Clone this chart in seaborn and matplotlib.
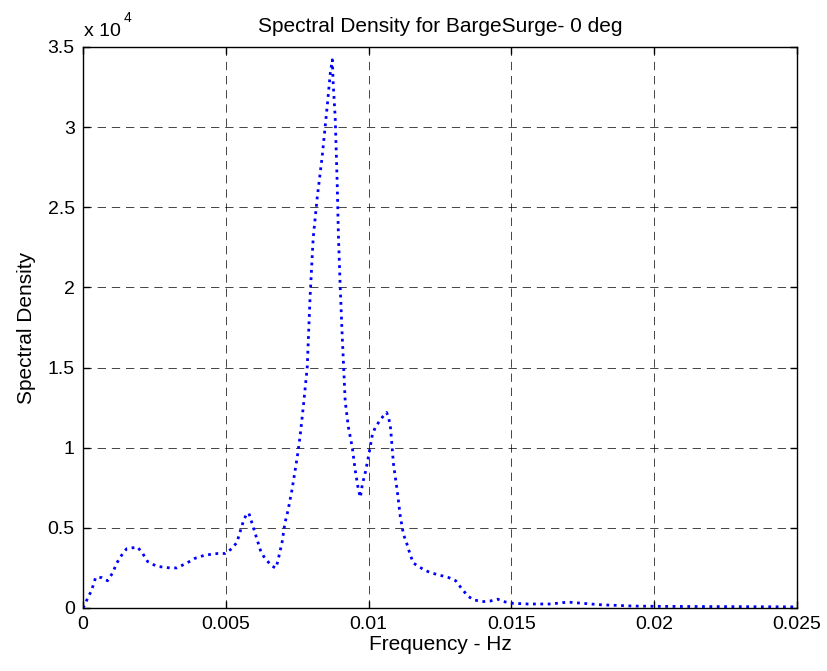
import matplotlib
matplotlib.use("Agg")
import matplotlib.pyplot as plt
from matplotlib.ticker import FuncFormatter, FixedLocator
from matplotlib.transforms import offset_copy
import numpy as np
import pandas as pd
import seaborn as sns

# Surge spectral density of the barge, 0 deg heading
freq_hz = [
    0.00000, 0.00016, 0.00030, 0.00044, 0.00065, 0.00086, 0.00104, 0.00118,
    0.00139, 0.00153, 0.00191, 0.00209, 0.00226, 0.00258, 0.00304, 0.00328,
    0.00363, 0.00392, 0.00427, 0.00472, 0.00497, 0.00521, 0.00539, 0.00549,
    0.00563, 0.00574, 0.00581, 0.00595, 0.00609, 0.00623, 0.00637, 0.00662,
    0.00676, 0.00683, 0.00697, 0.00707, 0.00718, 0.00732, 0.00750, 0.00760,
    0.00771, 0.00785, 0.00795, 0.00806, 0.00820, 0.00837, 0.00855, 0.00866,
    0.00873, 0.00876, 0.00883, 0.00890, 0.00894, 0.00900, 0.00907, 0.00918,
    0.00929, 0.00943, 0.00953, 0.00964, 0.00971, 0.00978, 0.00989, 0.00999,
    0.01013, 0.01024, 0.01048, 0.01063, 0.01070, 0.01077, 0.01087, 0.01101,
    0.01111, 0.01122, 0.01136, 0.01146, 0.01157, 0.01192, 0.01217, 0.01259,
    0.01280, 0.01305, 0.01322, 0.01347, 0.01368, 0.01403, 0.01427, 0.01452,
    0.01473, 0.01497, 0.01557, 0.01638, 0.01698, 0.01743, 0.01814, 0.01929,
    0.02024, 0.02165, 0.02340, 0.02500,
]
spectral_density = [
    0, 600, 1100, 1900, 1900, 1700, 2200, 2800,
    3400, 3700, 3800, 3400, 2900, 2600, 2500, 2500,
    2800, 3100, 3300, 3400, 3400, 3700, 4100, 4700,
    5500, 5900, 5900, 5100, 4300, 3500, 3100, 2600,
    2500, 3000, 4100, 5300, 6100, 7400, 9400, 10700,
    12500, 15000, 19400, 23100, 25600, 28100, 31300, 33400,
    34200, 32700, 30600, 26500, 23400, 20300, 17200, 12900,
    11300, 10000, 8600, 7400, 6900, 7700, 8500, 9400,
    10800, 11300, 11900, 12200, 11900, 11200, 9000, 7200,
    5700, 4600, 3900, 3300, 2800, 2400, 2200, 2000,
    1900, 1700, 1300, 750, 500, 400, 440, 550,
    400, 300, 250, 250, 370, 300, 200, 120,
    100, 90, 80, 70,
]

x_ticks = [0, 0.005, 0.01, 0.015, 0.02, 0.025]
y_ticks = [0, 5000, 10000, 15000, 20000, 25000, 30000, 35000]

title_text = "Spectral Density for BargeSurge- 0 deg"
x_label = "Frequency - Hz"
y_label = "Spectral Density"

sns.set_theme(style="white")
plt.rcParams["font.family"] = ["Liberation Sans", "DejaVu Sans"]

df = pd.DataFrame({"freq": freq_hz, "psd": spectral_density})

fig = plt.figure(figsize=(8.27, 6.71), dpi=100)
ax = fig.add_axes([0.1004, 0.0939, 0.8633, 0.8361])

sns.lineplot(data=df, x="freq", y="psd", ax=ax, color=(0, 0, 1),
             linestyle=":", linewidth=2.0, sort=False, estimator=None)

ax.set_xlim(0, 0.025)
ax.set_ylim(0, 35000)
ax.xaxis.set_major_locator(FixedLocator(x_ticks))
ax.yaxis.set_major_locator(FixedLocator(y_ticks))
ax.xaxis.set_major_formatter(FuncFormatter(lambda v, p: f"{v:g}"))
ax.yaxis.set_major_formatter(FuncFormatter(lambda v, p: f"{v / 1e4:g}"))

ax.grid(True, color="black", linestyle=(0, (10, 7)), linewidth=0.6, alpha=0.85)
for s in ax.spines.values():
    s.set_color("black")
    s.set_linewidth(1.0)
ax.tick_params(axis="both", which="major", direction="in", length=5, width=1,
               colors="black", labelsize=14, top=True, right=True,
               bottom=True, left=True, pad=6)

ax.set_title(title_text, fontsize=15, pad=11, color="black")
ax.set_xlabel(x_label, fontsize=15, color="black", labelpad=1)
ax.set_ylabel(y_label, fontsize=15, color="black", labelpad=8)

# exponent marker for the y axis scale
ax.text(0.002, 1.012, "x 10", transform=ax.transAxes, ha="left",
        va="bottom", fontsize=14, color="black")
ax.text(0.057, 1.040, "4", transform=ax.transAxes, ha="left",
        va="bottom", fontsize=10, color="black")

fig.savefig("out.png", dpi=100, facecolor="white")
